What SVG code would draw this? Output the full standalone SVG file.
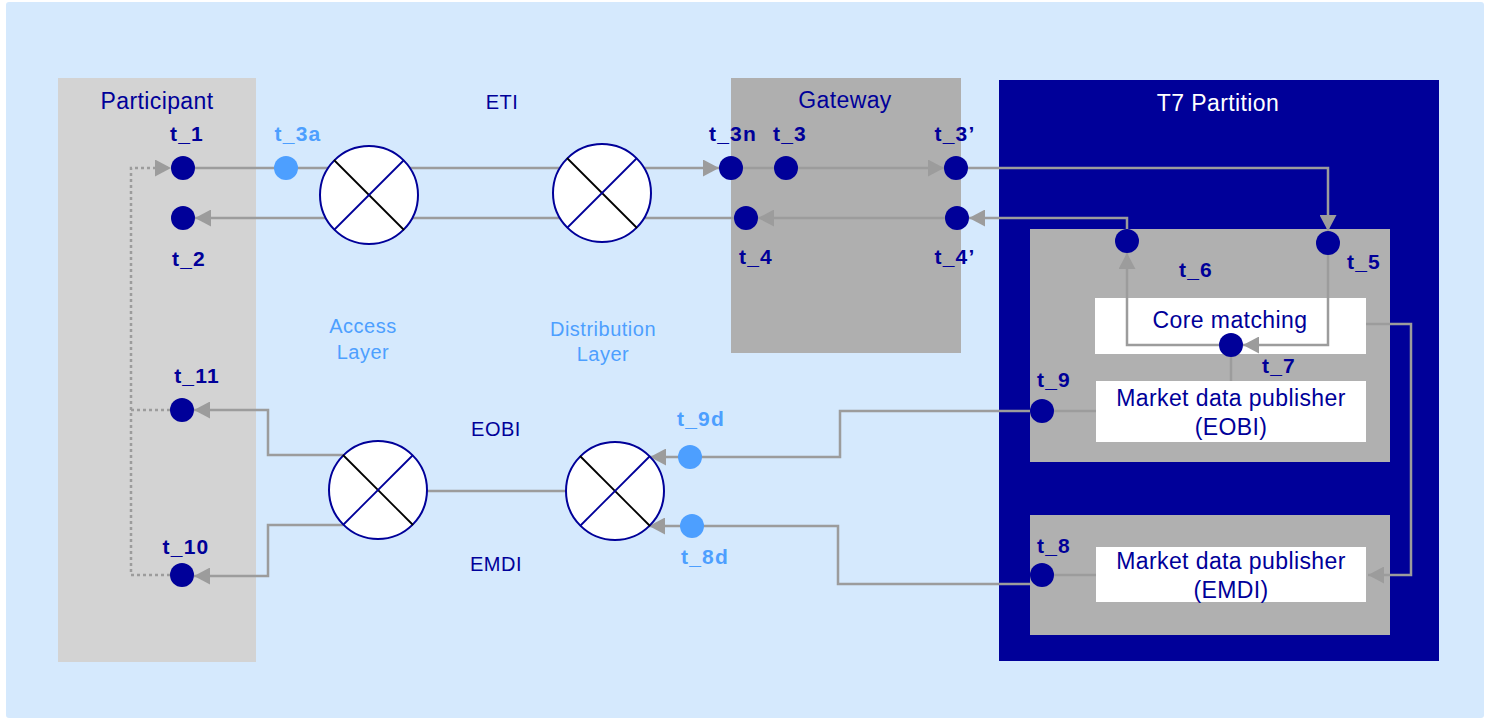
<svg xmlns="http://www.w3.org/2000/svg" width="1486" height="720" viewBox="0 0 1486 720">
<defs>
<style>
.t{font-family:"Liberation Sans",Arial,sans-serif;fill:#000099;text-anchor:middle}
.big{font-size:23px;letter-spacing:0.4px}
.mid{font-size:20px;letter-spacing:0.5px}
.lab{font-size:21px;font-weight:bold;letter-spacing:1.2px}
.lt{fill:#4D9FFF}
.wh{fill:#FFFFFF}
.c{fill:none;stroke:#9C9C9C;stroke-width:2.5}
.dot{fill:#000099}
.ldot{fill:#4D9FFF}
.mix circle{fill:#FFFFFF;stroke:#000099;stroke-width:2}
.xb{stroke:#000000;stroke-width:1.8}
.xl{stroke:#000099;stroke-width:1.8}
</style>
<marker id="ah" markerUnits="userSpaceOnUse" markerWidth="17" markerHeight="17" refX="16" refY="8.5" orient="auto">
<path d="M0,0 L16,8.5 L0,17 z" fill="#9C9C9C"/>
</marker>
</defs>
<rect x="0" y="0" width="1486" height="720" fill="#FFFFFF"/>
<rect x="6" y="2" width="1478" height="716" rx="3" fill="#D5E9FD"/>

<g id="participant">
<rect x="58" y="78" width="198" height="584" fill="#D3D3D3"/>
<text class="t big" x="157" y="109">Participant</text>
</g>
<g id="gateway">
<rect x="731" y="78" width="230" height="275" fill="#AFAFAF"/>
<text class="t big" x="845" y="108">Gateway</text>
</g>
<g id="t7-partition">
<rect x="999" y="80" width="440" height="581" fill="#000099"/>
<text class="t big wh" x="1218" y="111">T7 Partition</text>
<rect x="1030" y="229" width="360" height="233" fill="#B0B0B0"/>
<rect x="1030" y="515" width="360" height="120" fill="#B0B0B0"/>
</g>
<g id="core-matching">
<rect x="1095" y="298" width="271" height="56" fill="#FFFFFF"/>
<text class="t big" x="1230" y="328">Core matching</text>
</g>
<g id="mdp-eobi">
<rect x="1096" y="381" width="270" height="61" fill="#FFFFFF"/>
<text class="t big" x="1231" y="406">Market data publisher</text>
<text class="t big" x="1231" y="435">(EOBI)</text>
</g>
<g id="mdp-emdi">
<rect x="1096" y="547" width="270" height="55" fill="#FFFFFF"/>
<text class="t big" x="1231" y="569">Market data publisher</text>
<text class="t big" x="1231" y="598">(EMDI)</text>
</g>

<g id="layer-labels">
<text class="t mid" x="502" y="109">ETI</text>
<text class="t mid" x="496" y="436">EOBI</text>
<text class="t mid" x="496" y="571">EMDI</text>
<text class="t mid lt" x="363" y="333">Access</text>
<text class="t mid lt" x="363" y="359">Layer</text>
<text class="t mid lt" x="603" y="336">Distribution</text>
<text class="t mid lt" x="603" y="361">Layer</text>
</g>

<g id="connectors">
<path class="c" d="M170,575 H131 V168 H171" stroke-dasharray="3,3" marker-end="url(#ah)"/>
<path class="c" d="M170,410 H131" stroke-dasharray="3,3"/>
<path class="c" d="M195,168 H719" marker-end="url(#ah)"/>
<path class="c" d="M743,168 H944" marker-end="url(#ah)"/>
<path class="c" d="M968,168 H1328 V231" marker-end="url(#ah)"/>
<path class="c" d="M1127,229 V218 H969" marker-end="url(#ah)"/>
<path class="c" d="M945,218 H758" marker-end="url(#ah)"/>
<path class="c" d="M734,218 H195" marker-end="url(#ah)"/>
<path class="c" d="M1328,255 V345 H1243" marker-end="url(#ah)"/>
<path class="c" d="M1219,345 H1127 V253" marker-end="url(#ah)"/>
<path class="c" d="M1231,357 V381"/>
<path class="c" d="M1366,324 H1411 V575 H1368" marker-end="url(#ah)"/>
<path class="c" d="M1054,411 H1096"/>
<path class="c" d="M1054,575 H1096"/>
<path class="c" d="M1030,411 H840 V457 H650" marker-end="url(#ah)"/>
<path class="c" d="M1030,584 H838 V526 H649" marker-end="url(#ah)"/>
<path class="c" d="M567,491 H427"/>
<path class="c" d="M343,455 H268 V410 H194" marker-end="url(#ah)"/>
<path class="c" d="M343,525 H268 V576 H194" marker-end="url(#ah)"/>
</g>

<g id="mixer-access-eti" class="mix">
<circle cx="369" cy="195" r="49"/>
<line class="xb" x1="334" y1="160" x2="404" y2="230"/>
<line class="xl" x1="334" y1="230" x2="404" y2="160"/>
</g>
<g id="mixer-dist-eti" class="mix">
<circle cx="602" cy="193" r="49"/>
<line class="xb" x1="567" y1="158" x2="637" y2="228"/>
<line class="xl" x1="567" y1="228" x2="637" y2="158"/>
</g>
<g id="mixer-access-md" class="mix">
<circle cx="378" cy="490" r="49"/>
<line class="xb" x1="343" y1="455" x2="413" y2="525"/>
<line class="xl" x1="343" y1="525" x2="413" y2="455"/>
</g>
<g id="mixer-dist-md" class="mix">
<circle cx="615" cy="491" r="49"/>
<line class="xb" x1="580" y1="456" x2="650" y2="526"/>
<line class="xl" x1="580" y1="526" x2="650" y2="456"/>
</g>

<g id="t_1"><circle class="dot" cx="183" cy="168" r="12"/><text class="t lab" x="187" y="141">t_1</text></g>
<g id="t_2"><circle class="dot" cx="183" cy="218" r="12"/><text class="t lab" x="189" y="266">t_2</text></g>
<g id="t_3a"><circle class="ldot" cx="286" cy="168" r="12"/><text class="t lab lt" x="298" y="141">t_3a</text></g>
<g id="t_3n"><circle class="dot" cx="731" cy="168" r="12"/><text class="t lab" x="733" y="141">t_3n</text></g>
<g id="t_3"><circle class="dot" cx="786" cy="168" r="12"/><text class="t lab" x="790" y="141">t_3</text></g>
<g id="t_3p"><circle class="dot" cx="956" cy="168" r="12"/><text class="t lab" x="955" y="141">t_3’</text></g>
<g id="t_4"><circle class="dot" cx="746" cy="218" r="12"/><text class="t lab" x="756" y="264">t_4</text></g>
<g id="t_4p"><circle class="dot" cx="957" cy="218" r="12"/><text class="t lab" x="955" y="264">t_4’</text></g>
<g id="t_5"><circle class="dot" cx="1328" cy="243" r="12"/><text class="t lab" x="1364" y="269">t_5</text></g>
<g id="t_6"><circle class="dot" cx="1127" cy="241" r="12"/><text class="t lab" x="1196" y="277">t_6</text></g>
<g id="t_7"><circle class="dot" cx="1231" cy="345" r="12"/><text class="t lab" x="1279" y="373">t_7</text></g>
<g id="t_9"><circle class="dot" cx="1042" cy="411" r="12"/><text class="t lab" x="1054" y="387">t_9</text></g>
<g id="t_8"><circle class="dot" cx="1042" cy="575" r="12"/><text class="t lab" x="1054" y="553">t_8</text></g>
<g id="t_9d"><circle class="ldot" cx="690" cy="457" r="12"/><text class="t lab lt" x="701" y="426">t_9d</text></g>
<g id="t_8d"><circle class="ldot" cx="692" cy="526" r="12"/><text class="t lab lt" x="705" y="564">t_8d</text></g>
<g id="t_11"><circle class="dot" cx="182" cy="410" r="12"/><text class="t lab" x="197" y="383">t_11</text></g>
<g id="t_10"><circle class="dot" cx="182" cy="575" r="12"/><text class="t lab" x="186" y="554">t_10</text></g>
</svg>
